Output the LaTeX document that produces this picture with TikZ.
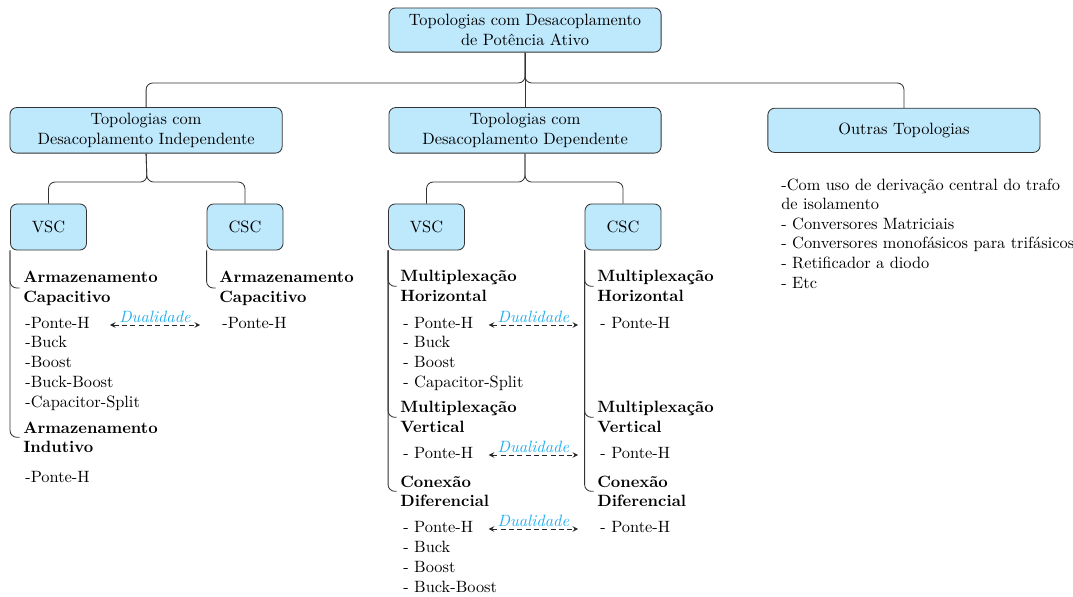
\documentclass[tikz,border=0pt]{standalone}
\usepackage{amsmath,amssymb}
\usepackage{tikz}
\usetikzlibrary{positioning}
\usetikzlibrary{calc}

\definecolor{boxblue}{RGB}{190,232,252}
\definecolor{dualblue}{RGB}{33,174,240}
\newcommand{\picfont}{\fontsize{9.8pt}{11.9pt}\selectfont}

\begin{document}
\begin{tikzpicture}[font=\picfont,
        box/.style={draw=black!80, fill=boxblue, rounded corners=4pt, line width=0.5pt, align=center, minimum width=5.73cm, minimum height=0.93cm},
        smallbox/.style={box, minimum width=1.6cm, minimum height=0.97cm},
        conn/.style={draw=black!80, line width=0.5pt, rounded corners=4pt},
        grp/.style={anchor=west, align=left, font=\picfont\bfseries, inner sep=0pt},
        item/.style={anchor=base west, inner sep=0pt},
        dual/.style={densely dashed, stealth-stealth, black!85, line width=0.5pt},
        dualtxt/.style={midway, above, inner sep=1pt, text=dualblue, font=\picfont\itshape}]
        \def\dist{0.421}
        \def\rdist{0.413}
        \useasboundingbox (0,0) rectangle (22.589,-12.568);

        % top levels
        \node [box] (top) at (11.053,-0.632) {Topologias com Desacoplamento\\de Potência Ativo};
        \node [box, below=1.15cm of top] (dep) {Topologias com\\Desacoplamento Dependente};
        \node [box, left=2.23cm of dep] (indep) {Topologias com\\Desacoplamento Independente};
        \node [box, right=2.23cm of dep] (other) {Outras Topologias};

        \coordinate (fork1) at (11.053,-1.747);
        \draw [conn] (top.south) -- (dep.north);
        \draw [conn] (indep.north) |- (fork1) -- (top.south);
        \draw [conn] (other.north) |- (fork1) -- (top.south);

        \node [smallbox] (vscA) at (1.021,-4.779) {VSC};
        \node [smallbox] (cscA) at (5.158,-4.779) {CSC};
        \node [smallbox] (vscB) at (8.979,-4.779) {VSC};
        \node [smallbox] (cscB) at (13.116,-4.779) {CSC};

        \coordinate (forkA) at (3.095,-3.832);
        \coordinate (forkB) at (11.053,-3.832);
        \draw [conn] (vscA.north) |- (forkA) -- (indep.south);
        \draw [conn] (cscA.north) |- (forkA) -- (indep.south);
        \draw [conn] (vscB.north) |- (forkB) -- (dep.south);
        \draw [conn] (cscB.north) |- (forkB) -- (dep.south);

        % groups
        \node [grp] (capA) at (0.484,-6.063) {Armazenamento\\Capacitivo};
        \node [grp] (indA) at (0.484,-9.206) {Armazenamento\\Indutivo};
        \node [grp] (capB) at (4.611,-6.063) {Armazenamento\\Capacitivo};
        \node [grp] (mhA) at (8.421,-6.027) {Multiplexação\\Horizontal};
        \node [grp] (mvA) at (8.421,-8.785) {Multiplexação\\Vertical};
        \node [grp] (cdA) at (8.421,-10.343) {Conexão\\Diferencial};
        \node [grp] (mhB) at (12.568,-6.027) {Multiplexação\\Horizontal};
        \node [grp] (mvB) at (12.568,-8.785) {Multiplexação\\Vertical};
        \node [grp] (cdB) at (12.568,-10.343) {Conexão\\Diferencial};

        \draw [conn, shorten >=2pt] (vscA.south west) |- (capA.west);
        \draw [conn, shorten >=2pt] (vscA.south west) |- (indA.west);
        \draw [conn, shorten >=2pt] (cscA.south west) |- (capB.west);
        \draw [conn, shorten >=2pt] (vscB.south west) |- (mhA.west);
        \draw [conn, shorten >=2pt] (vscB.south west) |- (mvA.west);
        \draw [conn, shorten >=2pt] (vscB.south west) |- (cdA.west);
        \draw [conn, shorten >=2pt] (cscB.south west) |- (mhB.west);
        \draw [conn, shorten >=2pt] (cscB.south west) |- (mvB.west);
        \draw [conn, shorten >=2pt] (cscB.south west) |- (cdB.west);

        % items
        \foreach \txt [count=\i] in {-Ponte-H,-Buck,-Boost,-Buck-Boost,-Capacitor-Split}
            \node [item] (capA\i) at (0.526,{-6.905-(\i-1)*\dist}) {\txt};
        \node [item] (indA1) at (0.526,-10.147) {-Ponte-H};
        \node [item] (capB1) at (4.674,-6.905) {-Ponte-H};

        \foreach \txt [count=\i] in {- Ponte-H,- Buck,- Boost,- Capacitor-Split}
            \node [item] (mhA\i) at (8.484,{-6.905-(\i-1)*\dist}) {\txt};
        \node [item] (mvA1) at (8.484,-9.642) {- Ponte-H};
        \foreach \txt [count=\i] in {- Ponte-H,- Buck,- Boost,- Buck-Boost}
            \node [item] (cdA\i) at (8.484,{-11.2-(\i-1)*\dist}) {\txt};

        \node [item] (mhB1) at (12.632,-6.905) {- Ponte-H};
        \node [item] (mvB1) at (12.632,-9.642) {- Ponte-H};
        \node [item] (cdB1) at (12.632,-11.2) {- Ponte-H};

        \foreach \txt [count=\i] in {-Com uso de derivação central do trafo,de isolamento,- Conversores Matriciais,- Conversores monofásicos para trifásicos,- Retificador a diodo,- Etc}
            \node [item] (oth\i) at (16.442,{-4.0-(\i-1)*\rdist}) {\txt};

        % dualidade
        \draw [dual] ([xshift=0.42cm, yshift=-1.5pt]capA1.east) -- ([xshift=-0.46cm, yshift=-1.5pt]capB1.west) node [dualtxt] {Dualidade};
        \draw [dual] ([xshift=0.32cm, yshift=-1.5pt]mhA1.east) -- ([xshift=-0.46cm, yshift=-1.5pt]mhB1.west) node [dualtxt] {Dualidade};
        \draw [dual] ([xshift=0.32cm, yshift=-1.5pt]mvA1.east) -- ([xshift=-0.46cm, yshift=-1.5pt]mvB1.west) node [dualtxt] {Dualidade};
        \draw [dual] ([xshift=0.32cm, yshift=-1.5pt]cdA1.east) -- ([xshift=-0.46cm, yshift=-1.5pt]cdB1.west) node [dualtxt] {Dualidade};
    \end{tikzpicture}
\end{document}
